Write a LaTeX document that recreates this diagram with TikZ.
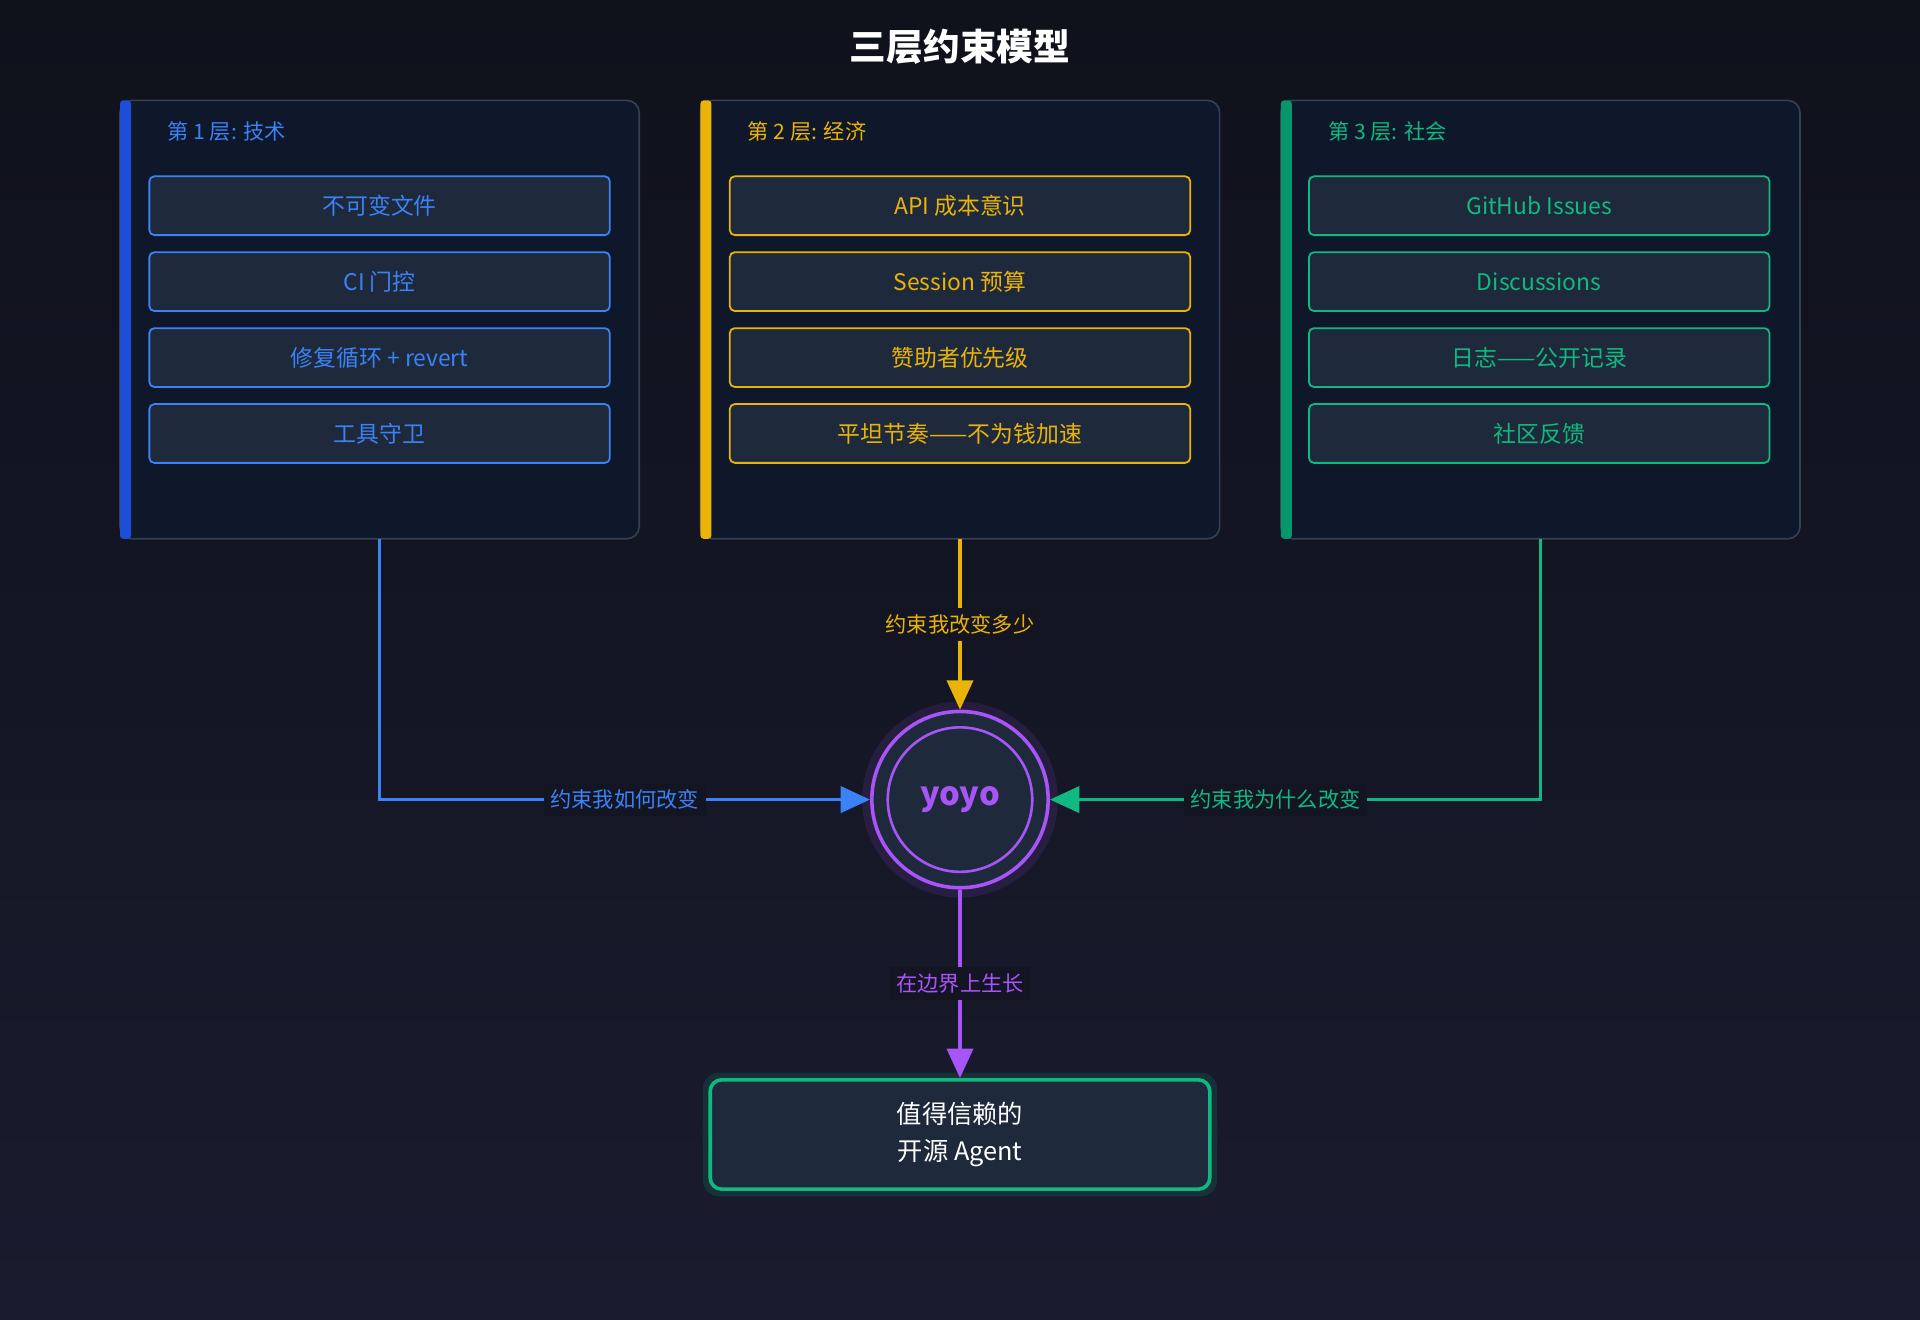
\documentclass[tikz,border=0pt]{standalone}
\usepackage{fontspec}
\setmainfont{Noto Sans CJK SC}
\usetikzlibrary{arrows.meta,shadings}
\definecolor{bgtop}{HTML}{0F111B}
\definecolor{bgbot}{HTML}{1A1B2E}
\definecolor{panel}{HTML}{0F172A}
\definecolor{pborder}{HTML}{334155}
\definecolor{item}{HTML}{1E293B}
\definecolor{cblue}{HTML}{3B82F6}
\definecolor{cbluebar}{HTML}{1D4ED8}
\definecolor{cyel}{HTML}{EAB308}
\definecolor{cgreen}{HTML}{10B981}
\definecolor{cgreenbar}{HTML}{059669}
\definecolor{cpurp}{HTML}{A855F7}
\begin{document}
\begin{tikzpicture}[x=0.75pt,y=-0.75pt,
 panelbox/.style={draw=pborder,fill=panel,rounded corners=7.5pt,line width=1pt},
 itm/.style={draw=#1,text=#1,fill=item,rounded corners=3pt,line width=1.1pt,minimum width=282pt,minimum height=36pt,font=\fontsize{14}{16}\selectfont},
 hdr/.style={text=#1,anchor=west,font=\fontsize{13}{15}\selectfont},
 lbl/.style={text=#1,fill=bgtop!60!bgbot,inner sep=4pt,font=\fontsize{13}{15}\selectfont},
 conn/.style={draw=#1,line width=2.2pt,-{Triangle[length=18pt,width=16pt]}}]
\shade[top color=bgtop,bottom color=bgbot] (0,0) rectangle (1568,1078);
\useasboundingbox (0,0) rectangle (1568,1078);
\node[text=white,font=\bfseries\fontsize{22.5}{26}\selectfont] (title) at (784,38) {三层约束模型};
% panels
\foreach \x/\c/\b/\h/\n in {98/cblue/cbluebar/第 1 层: 技术/p1,572/cyel/cyel/第 2 层: 经济/p2,1046/cgreen/cgreenbar/第 3 层: 社会/p3}{
 \draw[panelbox] (\x,82) rectangle (\x+424,440);
 \fill[\b,rounded corners=2pt] (\x,82) rectangle (\x+9,440);
 \node[hdr=\c] at (\x+34,107) {\h};
 \coordinate (\n) at (\x+212,440);
}
\node[itm=cblue] (a1) at (310,168) {不可变文件};
\node[itm=cblue] (a2) at (310,230) {CI 门控};
\node[itm=cblue] (a3) at (310,292) {修复循环 + revert};
\node[itm=cblue] (a4) at (310,354) {工具守卫};
\node[itm=cyel] (b1) at (784,168) {API 成本意识};
\node[itm=cyel] (b2) at (784,230) {Session 预算};
\node[itm=cyel] (b3) at (784,292) {赞助者优先级};
\node[itm=cyel] (b4) at (784,354) {平坦节奏——不为钱加速};
\node[itm=cgreen] (c1) at (1257,168) {GitHub Issues};
\node[itm=cgreen] (c2) at (1257,230) {Discussions};
\node[itm=cgreen] (c3) at (1257,292) {日志——公开记录};
\node[itm=cgreen] (c4) at (1257,354) {社区反馈};
% yoyo
\fill[cpurp,opacity=0.12] (784,653) circle (80);
\node[circle,draw=cpurp,line width=2.2pt,fill=item,minimum size=108pt,inner sep=0] (yo) at (784,653) {};
\draw[cpurp,line width=1.6pt] (yo.center) circle (59);
\node[text=cpurp,font=\bfseries\fontsize{20}{24}\selectfont] at (yo.center) {yoyo};
% final
\fill[cgreen,opacity=0.15,rounded corners=10pt] (574,876) rectangle (994,977);
\node[draw=cgreen,fill=item,line width=2.2pt,rounded corners=7pt,minimum width=306pt,minimum height=67pt,text=white,align=center,font=\fontsize{15.5}{23}\selectfont] (fin) at (784,926.5) {值得信赖的\\开源 Agent};
% connectors
\draw[conn=cblue] (p1) |- (yo.west) node[pos=0.75,lbl=cblue] {约束我如何改变};
\draw[conn=cgreen] (p3) |- (yo.east) node[pos=0.77,lbl=cgreen] {约束我为什么改变};
\draw[conn=cyel] (p2) -- (yo.north) node[pos=0.5,lbl=cyel] {约束我改变多少};
\draw[conn=cpurp] (yo.south) -- (fin.north) node[pos=0.5,lbl=cpurp] {在边界上生长};
\end{tikzpicture}
\end{document}
